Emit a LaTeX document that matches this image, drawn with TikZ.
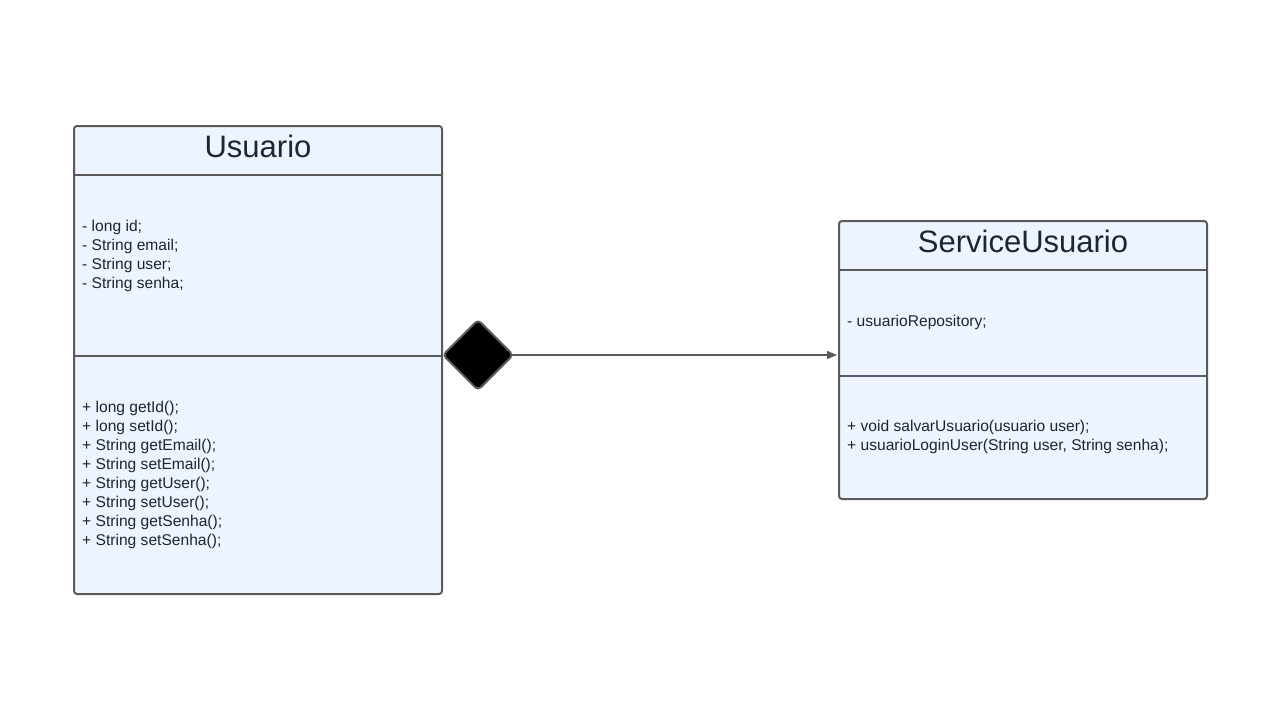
\documentclass[tikz,border=0pt]{standalone}
\usepackage{fontspec}
\setmainfont{Liberation Sans}
\usetikzlibrary{shapes.geometric,arrows.meta}
\definecolor{boxfill}{HTML}{EDF4FF}
\definecolor{boxline}{HTML}{5A5A5A}
\definecolor{ink}{HTML}{1F2530}
\tikzset{
  classbox/.style={draw=boxline, fill=boxfill, line width=2pt, rounded corners=3pt, inner sep=0pt},
  divider/.style={draw=boxline, line width=2pt},
  classtitle/.style={font=\fontsize{31}{36}\selectfont, text=ink, inner sep=0pt},
  members/.style={font=\fontsize{15.6}{19}\selectfont, text=ink, align=left, anchor=west, inner sep=0pt},
  composite/.style={shape=diamond, draw=boxline, fill=black, line width=2pt, rounded corners=4pt, minimum width=71pt, minimum height=71pt, inner sep=0pt},
  link/.style={draw=boxline, line width=1.3pt, shorten <=-3.5pt, -{Triangle[length=10pt,width=8pt]}}
}
\begin{document}
\begin{tikzpicture}[x=1pt,y=-1pt]
\useasboundingbox[fill=white] (0,0) rectangle (1280,720);

% class Usuario
\node[classbox, minimum width=368pt, minimum height=468pt] (usr) at (258,360) {};
\draw[divider] (74,175) coordinate (usrA) -- (442,175) coordinate (usrB);
\draw[divider] (74,356) coordinate (usrC) -- (442,356) coordinate (usrD);
\node[classtitle] (usrT) at (258,146) {Usuario};
\node[members] (usrAttr) at (82,256) {- long id;\\- String email;\\- String user;\\- String senha;};
\node[members] (usrOps) at (82,474.5) {+ long getId();\\+ long setId();\\+ String getEmail();\\+ String setEmail();\\+ String getUser();\\+ String setUser();\\+ String getSenha();\\+ String setSenha();};

% class ServiceUsuario
\node[classbox, minimum width=368pt, minimum height=278pt] (svc) at (1023,360) {};
\draw[divider] (839,270) coordinate (svcA) -- (1207,270) coordinate (svcB);
\draw[divider] (839,376) coordinate (svcC) -- (1207,376) coordinate (svcD);
\node[classtitle] (svcT) at (1023,241) {ServiceUsuario};
\node[members] (svcAttr) at (847,322.5) {- usuarioRepository;};
\node[members] (svcOps) at (847,437) {+ void salvarUsuario(usuario user);\\+ usuarioLoginUser(String user, String senha);};

% composition
\node[composite] (comp) at (478,355) {};
\coordinate (svcIn) at (837,355);
\draw[link] (comp.east) -- (svcIn);
\end{tikzpicture}
\end{document}
